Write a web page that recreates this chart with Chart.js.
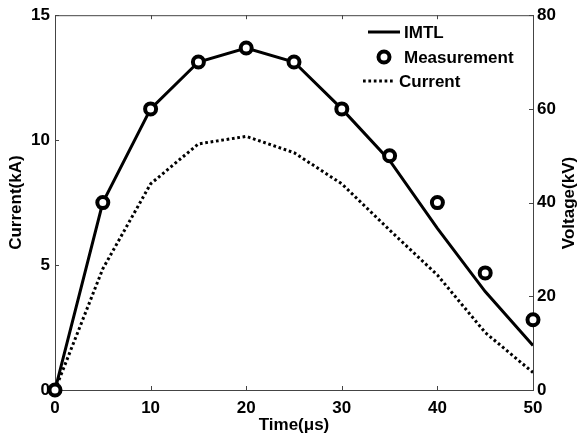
<!DOCTYPE html>
<html>
<head>
<meta charset="utf-8">
<script src="https://cdn.jsdelivr.net/npm/chart.js@4.4.1/dist/chart.umd.min.js"></script>
<style>
  body { margin: 0; background: #fff; }
  #wrap { width: 579px; height: 439px; }
</style>
</head>
<body>
<div id="wrap"><canvas id="chart" width="579" height="439"></canvas></div>
<script>
const time = [0, 5, 10, 15, 20, 25, 30, 35, 40, 45, 50];
const imtlVoltage = [0, 40, 60, 70, 73, 70, 60, 49, 34.5, 21, 9.5];
const measuredVoltage = [0, 40, 60, 70, 73, 70, 60, 50, 40, 25, 15];
const current = [0, 4.85, 8.25, 9.85, 10.15, 9.5, 8.25, 6.4, 4.6, 2.3, 0.7];

const xTicks = [0, 10, 20, 30, 40, 50];
const currentTicks = [0, 5, 10, 15];
const voltageTicks = [0, 20, 40, 60, 80];

const FONT = "'Liberation Sans', Arial, sans-serif";
const axisColor = "#444";

const pts = (ys) => time.map((t, i) => ({ x: t, y: ys[i] }));

// inward ticks + top border, MATLAB style
const framePlugin = {
  id: "frame",
  beforeDatasetsDraw(chart) {
    const { ctx, chartArea: a, scales } = chart;
    ctx.save();
    ctx.strokeStyle = axisColor;
    ctx.lineWidth = 1;
    ctx.beginPath();
    ctx.moveTo(a.left, a.top + 0.5);
    ctx.lineTo(a.right, a.top + 0.5);
    xTicks.forEach((v) => {
      const x = Math.round(scales.x.getPixelForValue(v)) + 0.5;
      ctx.moveTo(x, a.bottom);
      ctx.lineTo(x, a.bottom - 4);
      ctx.moveTo(x, a.top);
      ctx.lineTo(x, a.top + 4);
    });
    currentTicks.forEach((v) => {
      const y = Math.round(scales.y.getPixelForValue(v)) + 0.5;
      ctx.moveTo(a.left, y);
      ctx.lineTo(a.left + 4, y);
    });
    voltageTicks.forEach((v) => {
      const y = Math.round(scales.y1.getPixelForValue(v)) + 0.5;
      ctx.moveTo(a.right, y);
      ctx.lineTo(a.right - 4, y);
    });
    ctx.stroke();
    ctx.restore();
  },
  afterDraw(chart) {
    const { ctx } = chart;
    ctx.save();
    ctx.fillStyle = "#000";
    ctx.font = "bold 17px " + FONT;
    // right axis title reads bottom to top
    ctx.translate(569, 203);
    ctx.rotate(-Math.PI / 2);
    ctx.textAlign = "center";
    ctx.textBaseline = "middle";
    ctx.fillText("Voltage(kV)", 0, 0);
    ctx.restore();

    // legend
    ctx.save();
    ctx.font = "bold 17px " + FONT;
    ctx.fillStyle = "#000";
    ctx.strokeStyle = "#000";
    ctx.textBaseline = "middle";
    ctx.textAlign = "left";
    ctx.lineWidth = 3;
    ctx.beginPath();
    ctx.moveTo(368, 32);
    ctx.lineTo(400, 32);
    ctx.stroke();
    ctx.fillText("IMTL", 404, 33);

    ctx.lineWidth = 4;
    ctx.beginPath();
    ctx.arc(384, 57, 5.5, 0, Math.PI * 2);
    ctx.fillStyle = "#fff";
    ctx.fill();
    ctx.stroke();
    ctx.fillStyle = "#000";
    ctx.fillText("Measurement", 404, 58);

    ctx.lineWidth = 3;
    ctx.setLineDash([2.7, 2.7]);
    ctx.beginPath();
    ctx.moveTo(363, 81);
    ctx.lineTo(395, 81);
    ctx.stroke();
    ctx.setLineDash([]);
    ctx.fillText("Current", 399, 82);
    ctx.restore();
  },
};

new Chart(document.getElementById("chart"), {
  type: "line",
  data: {
    datasets: [
      {
        label: "Measurement",
        data: pts(measuredVoltage),
        yAxisID: "y1",
        showLine: false,
        pointRadius: 5.5,
        pointBorderWidth: 4,
        pointBorderColor: "#000",
        pointBackgroundColor: "#fff",
        clip: false,
        order: 0,
      },
      {
        label: "IMTL",
        data: pts(imtlVoltage),
        yAxisID: "y1",
        borderColor: "#000",
        borderWidth: 3,
        pointRadius: 0,
        tension: 0,
        order: 1,
      },
      {
        label: "Current",
        data: pts(current),
        yAxisID: "y",
        borderColor: "#000",
        borderWidth: 3,
        borderDash: [2.7, 2.7],
        borderCapStyle: "butt",
        pointRadius: 0,
        tension: 0,
        order: 2,
      },
    ],
  },
  options: {
    responsive: false,
    animation: false,
    events: [],
    layout: { padding: { top: 13, left: 0, right: 0, bottom: 0 } },
    plugins: { legend: { display: false }, tooltip: { enabled: false } },
    scales: {
      x: {
        type: "linear",
        min: 0,
        max: 50,
        grid: { display: false, drawTicks: false, tickLength: 0 },
        border: { display: true, color: axisColor, width: 1 },
        ticks: {
          stepSize: 10,
          maxRotation: 0,
          padding: 8,
          color: "#000",
          font: { family: FONT, size: 17, weight: "bold" },
        },
        title: {
          display: true,
          text: "Time(μs)",
          color: "#000",
          padding: { top: 0, bottom: 3 },
          font: { family: FONT, size: 17, weight: "bold" },
        },
        afterFit: (s) => { s.height = 49; },
      },
      y: {
        position: "left",
        min: 0,
        max: 15,
        grid: { display: false, drawTicks: false, tickLength: 0 },
        border: { display: true, color: axisColor, width: 1 },
        ticks: {
          stepSize: 5,
          padding: 5,
          color: "#000",
          font: { family: FONT, size: 17, weight: "bold" },
        },
        title: {
          display: true,
          text: "Current(kA)",
          color: "#000",
          padding: { top: 6, bottom: 0 },
          font: { family: FONT, size: 17, weight: "bold" },
        },
        afterFit: (s) => { s.width = 55; },
      },
      y1: {
        position: "right",
        min: 0,
        max: 80,
        grid: { display: false, drawTicks: false, tickLength: 0 },
        border: { display: true, color: axisColor, width: 1 },
        ticks: {
          stepSize: 20,
          padding: 4,
          color: "#000",
          font: { family: FONT, size: 17, weight: "bold" },
        },
        afterFit: (s) => { s.width = 46; },
      },
    },
  },
  plugins: [framePlugin],
});
</script>
</body>
</html>
